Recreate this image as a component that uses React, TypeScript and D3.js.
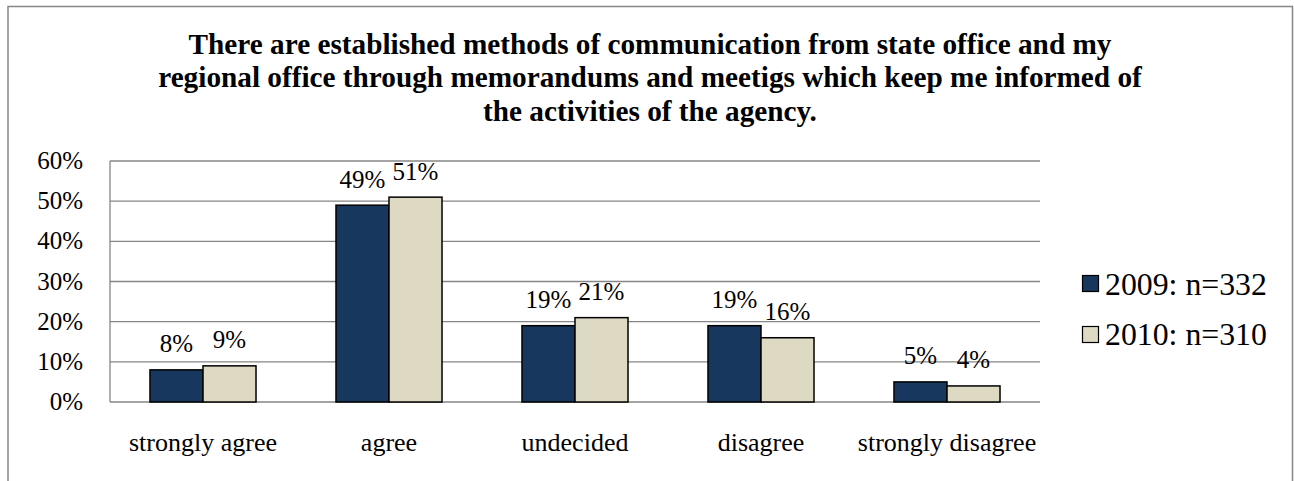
import React from "react";
import * as d3 from "d3";

const titleLines = [
  "There are established methods of communication from state office and my",
  "regional office through memorandums and meetigs which keep me informed of",
  "the activities of the agency.",
];
const categories = ["strongly agree", "agree", "undecided", "disagree", "strongly disagree"];
const seriesNames = ["2009: n=332", "2010: n=310"];
const values2009 = [0.08, 0.49, 0.19, 0.19, 0.05];
const values2010 = [0.09, 0.51, 0.21, 0.16, 0.04];
const yTicks = [0, 0.1, 0.2, 0.3, 0.4, 0.5, 0.6];
const colors = ["#17375E", "#DDD9C3"];

const W = 1294;
const H = 481;
const FONT = "Liberation Serif";
const fs = (size: number) => ({ fontFamily: `"${FONT}"`, fontSize: `${size}px` });

export default function App() {
  const plotL = 110, plotR = 1040, plotT = 161, plotB = 402;
  const y = d3.scaleLinear().domain([0, 0.6]).range([plotB, plotT]);
  const x0 = d3.scaleBand<string>().domain(categories).range([plotL, plotR]).paddingInner(0.43).paddingOuter(0.215);
  const x1 = d3.scaleBand<string>().domain(seriesNames).range([0, x0.bandwidth()]);
  const series = [values2009, values2010];
  const fmt = d3.format(".0%");

  return (
    <svg width={W} height={H} fontFamily={FONT} style={{ position: "absolute", left: 0, top: 0 }}>
      <rect x={0} y={0} width={W} height={H} fill="#fff" />
      <path d={`M8,${H + 5}V6.5H1292.5V${H + 5}`} fill="none" stroke="#868686" strokeWidth={1.5} />
      {titleLines.map((t, i) => (
        <text key={i} x={650} y={53.5 + i * 33.5} textAnchor="middle" fontWeight="bold" fontFamily={FONT} style={fs(29.25)}>
          {t}
        </text>
      ))}
      {yTicks.map((t) => (
        <g key={t}>
          <line x1={plotL} x2={plotR} y1={y(t)} y2={y(t)} stroke="#868686" strokeWidth={1.3} />
          <text x={plotL - 27} y={y(t) + 8} textAnchor="end" fontFamily={FONT} style={fs(25)}>
            {fmt(t)}
          </text>
        </g>
      ))}
      <line x1={plotL} x2={plotL} y1={plotT} y2={plotB} stroke="#868686" strokeWidth={1.3} />
      {categories.map((c, ci) => (
        <g key={c}>
          {series.map((vals, si) => {
            const bx = (x0(c) ?? 0) + (x1(seriesNames[si]) ?? 0);
            const bw = x1.bandwidth();
            return (
              <g key={si}>
                <rect x={bx} y={y(vals[ci])} width={bw} height={plotB - y(vals[ci])} fill={colors[si]} stroke="#000" strokeWidth={1.5} />
                <text x={bx + bw / 2} y={y(vals[ci]) - 17.5} textAnchor="middle" fontFamily={FONT} style={fs(25)}>
                  {fmt(vals[ci])}
                </text>
              </g>
            );
          })}
          <text x={(x0(c) ?? 0) + x0.bandwidth() / 2} y={451} textAnchor="middle" fontFamily={FONT} style={fs(26)}>
            {c}
          </text>
        </g>
      ))}
      {seriesNames.map((s, i) => (
        <g key={s}>
          <rect x={1082.5} y={275.5 + i * 51} width={16} height={16} fill={colors[i]} stroke="#000" strokeWidth={1.2} />
          <text x={1105} y={295 + i * 50} fontFamily={FONT} style={fs(31.8)}>
            {s}
          </text>
        </g>
      ))}
    </svg>
  );
}
